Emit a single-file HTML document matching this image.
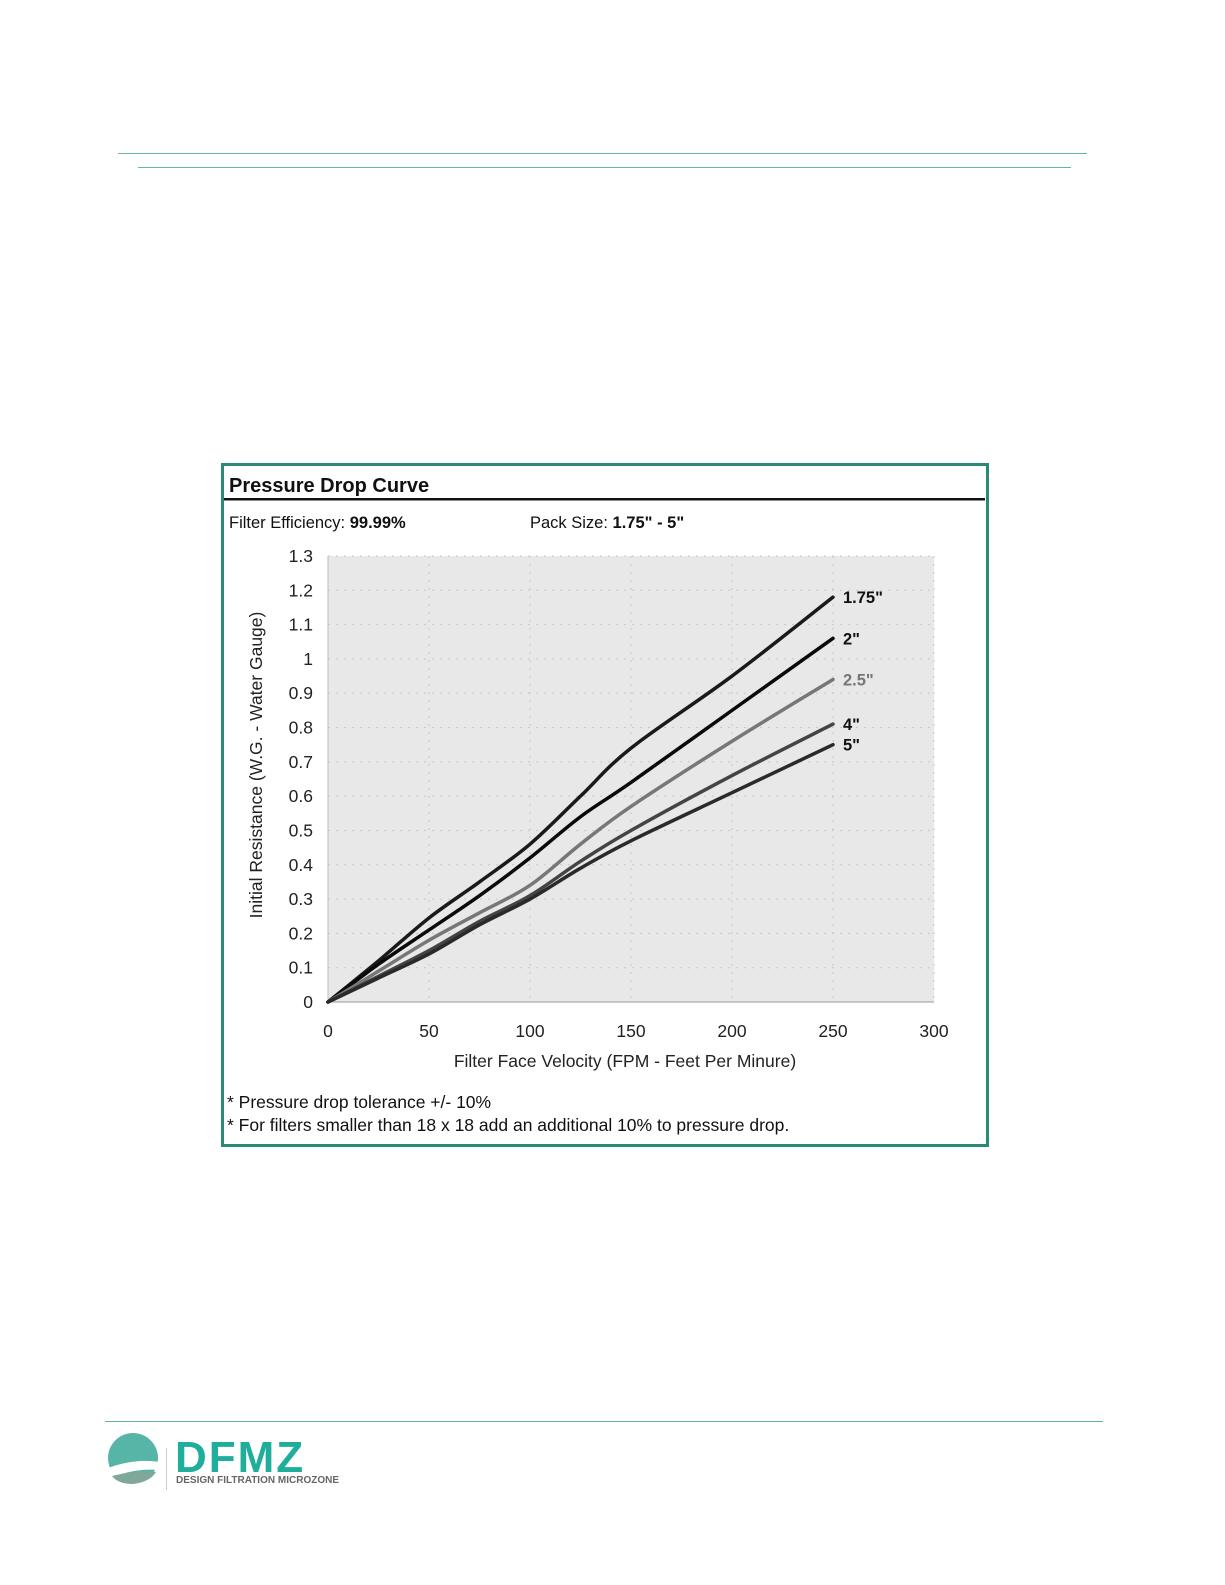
<!DOCTYPE html>
<html><head><meta charset="utf-8"><style>
body{margin:0;background:#fff;width:1225px;height:1585px;position:relative;font-family:"Liberation Sans",Arial,sans-serif;overflow:hidden}
.abs{position:absolute}
</style></head><body>
<div class="abs" style="left:118px;top:153px;width:969px;height:1px;background:#5fb8a8"></div>
<div class="abs" style="left:138px;top:167px;width:933px;height:1px;background:#5fb8a8"></div>
<div class="abs" style="left:105px;top:1421px;width:998px;height:1px;background:#5fb8a8"></div>
<div class="abs" style="left:221px;top:463px;width:762px;height:678px;border:3px solid #2a8a78"></div>
<svg class="abs" style="left:0;top:0" width="1225" height="1585">
<text x="229" y="492" font-size="20" font-weight="bold" fill="#111">Pressure Drop Curve</text>
<rect x="224" y="498" width="761" height="2.5" fill="#111"/>
<text x="229" y="528" font-size="16.5" fill="#111">Filter Efficiency:  <tspan font-weight="bold">99.99%</tspan></text>
<text x="530" y="528" font-size="16.5" fill="#111">Pack Size:  <tspan font-weight="bold">1.75" - 5"</tspan></text>
<rect x="328" y="556" width="606" height="446" fill="#e8e8e8"/>
<g id="grid"></g><g id="axes"></g><g id="series"></g>
<text x="625" y="1067" font-size="17.5" text-anchor="middle" fill="#222">Filter Face Velocity (FPM - Feet Per Minure)</text>
<text transform="translate(262,765) rotate(-90)" font-size="17.5" text-anchor="middle" fill="#222">Initial Resistance (W.G. - Water Gauge)</text>
<text x="227" y="1108" font-size="17.5" fill="#111">* Pressure drop tolerance +/- 10%</text>
<text x="227" y="1131" font-size="17.5" fill="#111">* For filters smaller than 18 x 18 add an additional 10% to pressure drop.</text>
<g>
<circle cx="133" cy="1458" r="25" fill="#3aa898" opacity="0.85"/>
<path d="M108 1468 Q135 1458 160 1462 L158 1470 Q135 1468 110 1478Z" fill="#fff"/>
<path d="M112 1476 Q135 1470 156 1472 Q150 1482 133 1484 Q118 1484 112 1476Z" fill="#7fa89a"/>
<rect x="166" y="1448" width="1" height="42" fill="#ccc"/>
<text x="175" y="1472" font-size="44" font-weight="bold" fill="#1fae9c" letter-spacing="2">DFMZ</text>
<text x="176" y="1483" font-size="10" font-weight="bold" fill="#666" textLength="163">DESIGN FILTRATION MICROZONE</text>
</g>
</svg>
<script>
const xTicks=[0,50,100,150,200,250,300];
const yTicks=[0,0.1,0.2,0.3,0.4,0.5,0.6,0.7,0.8,0.9,1,1.1,1.2,1.3];
const velocities=[0,25,50,75,100,125,150,200,250];
const s175=[0,0.12,0.245,0.35,0.46,0.6,0.74,0.95,1.18];
const s2=[0,0.11,0.21,0.31,0.42,0.54,0.64,0.85,1.06];
const s25=[0,0.09,0.18,0.26,0.34,0.46,0.57,0.76,0.94];
const s4=[0,0.075,0.15,0.235,0.31,0.41,0.50,0.66,0.81];
const s5=[0,0.07,0.14,0.225,0.30,0.39,0.47,0.61,0.75];
const seriesNames=['1.75"','2"','2.5"','4"','5"'];
const seriesColors=['#1a1a1a','#0a0a0a','#777','#444','#2a2a2a'];
const NS='http://www.w3.org/2000/svg';
const X=v=>328+v*606/300, Y=v=>1002-v*446/1.3;
function mk(p,t,a){const e=document.createElementNS(NS,t);for(const k in a)e.setAttribute(k,a[k]);p.appendChild(e);return e;}
const grid=document.getElementById('grid'),axes=document.getElementById('axes'),ser=document.getElementById('series');
xTicks.forEach(t=>{
 if(t>0){const l=mk(grid,'line',{x1:X(t),x2:X(t),y1:556,y2:1002,stroke:'#c8c8c8','stroke-dasharray':'2 6'});
 
 }
 const tx=mk(axes,'text',{x:X(t),y:1037,'font-size':17.5,'text-anchor':'middle',fill:'#222'});tx.textContent=t;
 
 
});
yTicks.forEach(t=>{
 if(t>0){const l=mk(grid,'line',{x1:328,x2:934,y1:Y(t),y2:Y(t),stroke:'#c8c8c8','stroke-dasharray':'2 6'});
 
 }
 const tx=mk(axes,'text',{x:313,y:Y(t)+6,'font-size':17.5,'text-anchor':'end',fill:'#222'});tx.textContent=+t.toFixed(1);
 
 
});
mk(axes,'line',{x1:328,x2:934,y1:1002,y2:1002,stroke:'#999'});
mk(axes,'line',{x1:328,x2:328,y1:556,y2:1002,stroke:'#bbb'});
[s175,s2,s25,s4,s5].forEach((s,i)=>{
 const pts=velocities.map((v,j)=>[X(v),Y(s[j])]);
 let d='M'+pts[0][0]+' '+pts[0][1];
 for(let j=0;j<pts.length-1;j++){const p0=pts[Math.max(0,j-1)],p1=pts[j],p2=pts[j+1],p3=pts[Math.min(pts.length-1,j+2)];
  d+=` C${p1[0]+(p2[0]-p0[0])/6} ${p1[1]+(p2[1]-p0[1])/6} ${p2[0]-(p3[0]-p1[0])/6} ${p2[1]-(p3[1]-p1[1])/6} ${p2[0]} ${p2[1]}`;}
 const p=mk(ser,'path',{d:d,fill:'none',stroke:seriesColors[i],'stroke-width':3.5,'stroke-linecap':'round'});
 
 
 const last=pts[pts.length-1];
 const lb=mk(ser,'text',{x:last[0]+10,y:last[1]+6,'font-size':16.5,'font-weight':'bold',fill:i==2?'#777':'#111'});lb.textContent=seriesNames[i];
 
 
});
</script>
</body></html>
